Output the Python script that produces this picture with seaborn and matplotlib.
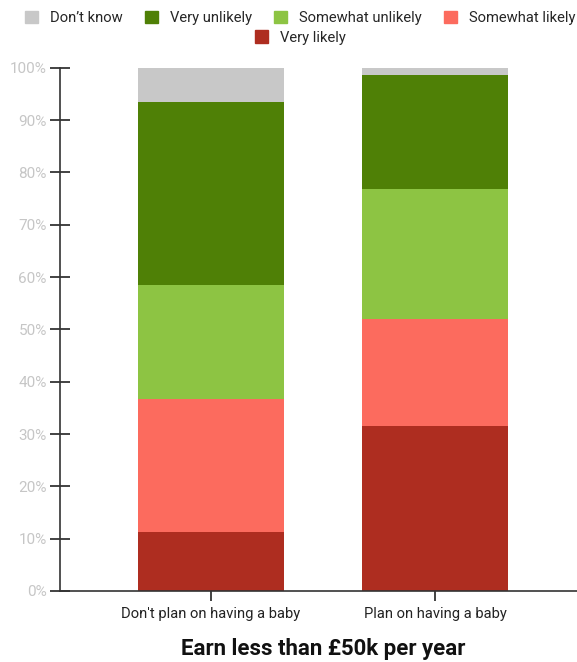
import numpy as np
import pandas as pd
import seaborn as sns
import matplotlib.pyplot as plt
from matplotlib.patches import Patch

# data (percent of respondents)
groups = ["Don't plan on having a baby", "Plan on having a baby"]
levels = ["Don\u2019t know", "Very unlikely", "Somewhat unlikely", "Somewhat likely", "Very likely"]
very_likely = [11.3, 31.5]
somewhat_likely = [25.3, 20.5]
somewhat_unlikely = [21.8, 24.9]
very_unlikely = [35.1, 21.8]
dont_know = [6.5, 1.3]
colors = {"Don\u2019t know": "#c8c8c8", "Very unlikely": "#4f8006",
          "Somewhat unlikely": "#8dc443", "Somewhat likely": "#fc6b5e",
          "Very likely": "#ae2d20"}

sns.set_style("white")
plt.rcParams['font.family'] = ['Roboto', 'DejaVu Sans']

df = pd.DataFrame({"group": groups,
                   "Very likely": very_likely,
                   "Somewhat likely": somewhat_likely,
                   "Somewhat unlikely": somewhat_unlikely,
                   "Very unlikely": very_unlikely,
                   "Don\u2019t know": dont_know})

fig = plt.figure(figsize=(5.77, 6.62), dpi=100)
ax = fig.add_axes([60 / 577, 71 / 662, 517 / 577, (591 - 67.7) / 662])

# stack: draw cumulative totals from the top level down
stack_order = ["Very likely", "Somewhat likely", "Somewhat unlikely", "Very unlikely", "Don\u2019t know"]
cum = df[stack_order].cumsum(axis=1)
for lvl in reversed(stack_order):
    sns.barplot(x=df["group"], y=cum[lvl], color=colors[lvl], width=0.656,
                saturation=1, ax=ax, linewidth=0)

ax.set_xlim(-0.674, 1.634)
ax.set_ylim(0, 100)
ax.set_yticks(np.arange(0, 101, 10))
ax.set_yticklabels([f"{v}%" for v in range(0, 101, 10)], color="#c6c6c6", fontsize=11)
ax.tick_params(axis='y', left=True, direction='inout', length=15, width=1.2, color='#222222', pad=2)
ax.tick_params(axis='x', bottom=True, direction='inout', length=15, width=1.2, color='#222222', pad=4,
               labelsize=10.6, labelcolor='#222222')
ax.set_ylabel("")
ax.set_xlabel("Earn less than \u00a350k per year", fontsize=16, fontweight='bold',
              color='#111111')
ax.xaxis.set_label_coords(0.51, -0.09)
for s in ['top', 'right']:
    ax.spines[s].set_visible(False)
for s in ['left', 'bottom']:
    ax.spines[s].set_color('#333333')
    ax.spines[s].set_linewidth(1.2)

row1 = [Patch(color=colors[l], label=l) for l in levels[:4]]
row2 = [Patch(color=colors[levels[4]], label=levels[4])]
kw = dict(frameon=False, fontsize=10.6, handlelength=0.9, handleheight=0.9,
          handletextpad=0.8, columnspacing=1.5, borderaxespad=0)
fig.legend(handles=row1, loc='upper center', bbox_to_anchor=(0.52, 0.993), ncol=4, **kw)
fig.legend(handles=row2, loc='upper center', bbox_to_anchor=(0.52, 0.963), ncol=1, **kw)

fig.savefig("out.png", dpi=100)
